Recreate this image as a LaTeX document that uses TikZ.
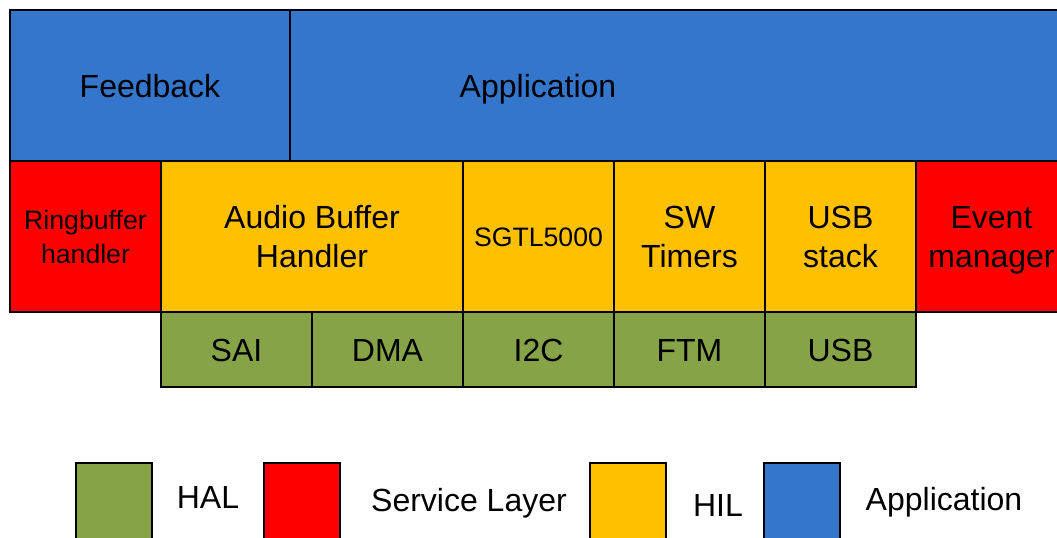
\documentclass[tikz,border=0pt]{standalone}
\usepackage{fontspec}
\setmainfont{Liberation Sans}
\definecolor{appblue}{HTML}{3476CC}
\definecolor{srvred}{HTML}{FF0000}
\definecolor{hilyel}{HTML}{FFC000}
\definecolor{halgrn}{HTML}{87A347}
\newcommand\lstrut{\vrule width 0pt height 0.97em depth 0.25em\relax}
\begin{document}
\begin{tikzpicture}[x=0.75pt,y=-0.75pt,
  blk/.style={draw=black,line width=1.3pt,inner sep=0pt,align=center,font=\fontsize{24}{29.3}\selectfont},
  small/.style={font=\fontsize{20}{24.4}\selectfont},
  lbl/.style={inner sep=0pt,font=\fontsize{24}{29.3}\selectfont}]
\useasboundingbox (0,0) rectangle (1057,538);
\clip (0,0) rectangle (1057,538);
% top row
\draw[line width=1.3pt,fill=appblue] (290,10) rectangle (1075,161);
\node[blk,fill=appblue,minimum width=280*0.75pt,minimum height=151*0.75pt] (feedback) at (150,85.5) {\lstrut Feedback};
\node[lbl] (application) at (538,85.5) {\lstrut Application};
% middle row
\node[blk,fill=srvred,minimum width=151*0.75pt,minimum height=151*0.75pt,small] (ring) at (85.5,236.5) {\lstrut Ringbuffer\\\lstrut handler};
\node[blk,fill=hilyel,minimum width=302*0.75pt,minimum height=151*0.75pt] (audio) at (312,236.5) {\lstrut Audio Buffer\\\lstrut Handler};
\node[blk,fill=hilyel,minimum width=151*0.75pt,minimum height=151*0.75pt,small] (sgtl) at (538.5,236.5) {\lstrut SGTL5000};
\node[blk,fill=hilyel,minimum width=151*0.75pt,minimum height=151*0.75pt] (swt) at (689.5,236.5) {\lstrut SW\\\lstrut Timers};
\node[blk,fill=hilyel,minimum width=151*0.75pt,minimum height=151*0.75pt] (usbs) at (840.5,236.5) {\lstrut USB\\\lstrut stack};
\node[blk,fill=srvred,minimum width=151*0.75pt,minimum height=151*0.75pt] (evm) at (991.5,236.5) {\lstrut Event\\\lstrut manager};
% bottom row
\node[blk,fill=halgrn,minimum width=151*0.75pt,minimum height=75*0.75pt] (sai) at (236.5,349.5) {\lstrut SAI};
\node[blk,fill=halgrn,minimum width=151*0.75pt,minimum height=75*0.75pt] (dma) at (387.5,349.5) {\lstrut DMA};
\node[blk,fill=halgrn,minimum width=151*0.75pt,minimum height=75*0.75pt] (i2c) at (538.5,349.5) {\lstrut I2C};
\node[blk,fill=halgrn,minimum width=151*0.75pt,minimum height=75*0.75pt] (ftm) at (689.5,349.5) {\lstrut FTM};
\node[blk,fill=halgrn,minimum width=151*0.75pt,minimum height=75*0.75pt] (usb) at (840.5,349.5) {\lstrut USB};
% legend
\node[blk,fill=halgrn,minimum width=76*0.75pt,minimum height=90*0.75pt] (lg1) at (114,508) {};
\node[lbl] (t1) at (208,497) {\lstrut HAL};
\node[blk,fill=srvred,minimum width=76*0.75pt,minimum height=90*0.75pt] (lg2) at (302,508) {};
\node[lbl] (t2) at (469,500) {\lstrut Service Layer};
\node[blk,fill=hilyel,minimum width=76*0.75pt,minimum height=90*0.75pt] (lg3) at (628,508) {};
\node[lbl] (t3) at (718,505) {\lstrut HIL};
\node[blk,fill=appblue,minimum width=76*0.75pt,minimum height=90*0.75pt] (lg4) at (802,508) {};
\node[lbl] (t4) at (944,499) {\lstrut Application};
\end{tikzpicture}
\end{document}
